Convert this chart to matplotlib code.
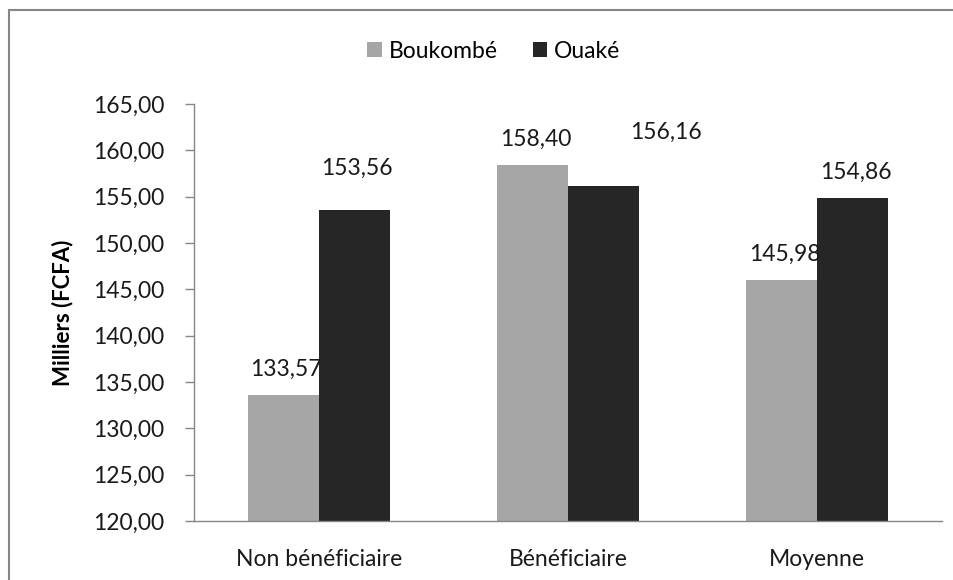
import numpy as np
import matplotlib.pyplot as plt
import matplotlib.ticker as mtp_ticker
from matplotlib.patches import Rectangle

categories = ['Non bénéficiaire', 'Bénéficiaire', 'Moyenne']
series_names = ['Boukombé', 'Ouaké']
boukombe = [133.57, 158.40, 145.98]
ouake = [153.56, 156.16, 154.86]
y_ticks = [120, 125, 130, 135, 140, 145, 150, 155, 160, 165]

colors = ['#A6A6A6', '#262626']
# label offsets in pixels (Excel placed a couple of them oddly)
label_offsets = [[(3, 26), (3, 42)],
                 [(3, 26), (62, 54)],
                 [(3, 26), (3, 26)]]

plt.rcParams['font.family'] = ['Lato', 'DejaVu Sans']
FS = 16.5


def fr(v):
    return format(v, '.2f').replace('.', ',')


fig = plt.figure(figsize=(9.54, 5.80), dpi=100)
fig.patches.append(Rectangle((0.0094, -0.1), 1.2, 1.0828, transform=fig.transFigure,
                             fill=False, edgecolor='#868686', linewidth=1.5))

ax = fig.add_axes([0.2034, 0.1017, 0.784, 0.719])

x = np.arange(len(categories))
w = 0.285
for i, vals in enumerate([boukombe, ouake]):
    pos = x + (i - 0.5) * w
    ax.bar(pos, np.array(vals) - 120, bottom=120, width=w, color=colors[i],
           label=series_names[i], zorder=2)
    for j, v in enumerate(vals):
        dx, dy = label_offsets[j][i]
        ax.annotate(fr(v), xy=(pos[j], v), xytext=(dx * 0.72, dy * 0.72),
                    textcoords='offset points', ha='center', va='center',
                    fontsize=FS, color='#1a1a1a', zorder=3)

ax.set_xlim(-0.5, 2.5)
ax.set_ylim(120, 165)
ax.set_yticks(y_ticks)
ax.yaxis.set_major_formatter(mtp_ticker.FuncFormatter(lambda v, p: fr(v)))
ax.set_xticks(x)
ax.set_xticklabels(categories)
ax.tick_params(axis='y', length=6.5, width=1, color='#868686', labelsize=FS, pad=15,
               labelcolor='#1a1a1a')
ax.tick_params(axis='x', length=0, labelsize=FS, pad=20, labelcolor='#1a1a1a')

for s in ['top', 'right']:
    ax.spines[s].set_visible(False)
for s in ['left', 'bottom']:
    ax.spines[s].set_color('#868686')
    ax.spines[s].set_linewidth(1)

ax.set_ylabel('Milliers (FCFA)', fontsize=16, fontweight='bold', labelpad=14)

ax.legend(loc='center', bbox_to_anchor=(494 / 954, 1 - 51 / 580),
          bbox_transform=fig.transFigure, ncol=2, frameon=False, fontsize=FS,
          handlelength=0.65, handleheight=0.65, handletextpad=0.3, columnspacing=1.5)

fig.savefig('out.png', dpi=100)
